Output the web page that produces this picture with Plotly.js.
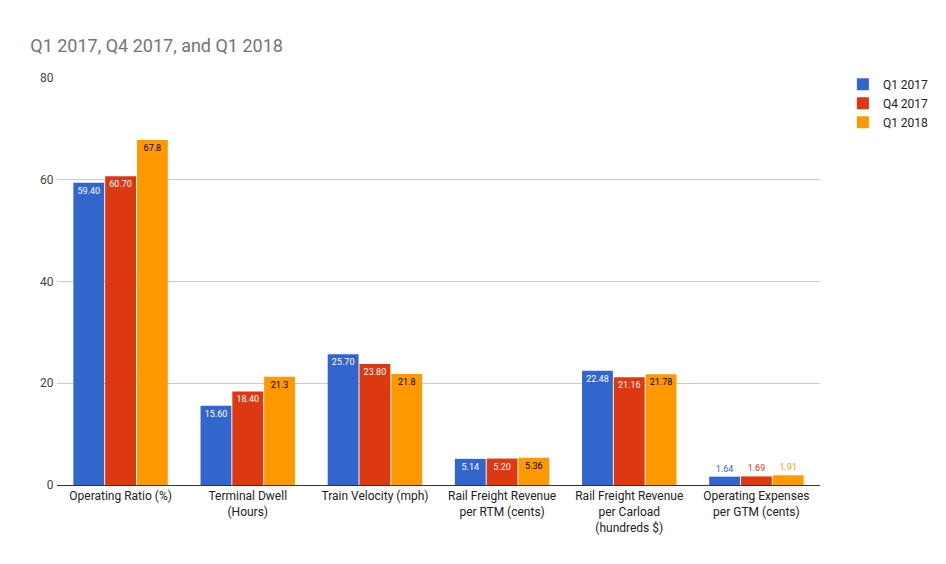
<!DOCTYPE html>
<html>
<head>
<meta charset="utf-8">
<script src="https://cdn.plot.ly/plotly-3.0.1.min.js"></script>
<style>body{margin:0;background:#fff}</style>
</head>
<body>
<div id="chart" style="width:946px;height:564px"></div>
<script>
// categories
var categorias = ["Operating Ratio (%)", "Terminal Dwell<br>(Hours)", "Train Velocity (mph)",
  "Rail Freight Revenue<br>per RTM (cents)", "Rail Freight Revenue<br>per Carload<br>(hundreds $)",
  "Operating Expenses<br>per GTM (cents)"];

// series values
var q1_2017 = [59.40, 15.60, 25.70, 5.14, 22.48, 1.64];
var q4_2017 = [60.70, 18.40, 23.80, 5.20, 21.16, 1.69];
var q1_2018 = [67.8, 21.3, 21.8, 5.36, 21.78, 1.91];

// labels as shown on bars
var etiq_q1_2017 = ["59.40", "15.60", "25.70", "5.14", "22.48", "1.64"];
var etiq_q4_2017 = ["60.70", "18.40", "23.80", "5.20", "21.16", "1.69"];
var etiq_q1_2018 = ["67.8", "21.3", "21.8", "5.36", "21.78", "1.91"];

function serie(nombre, valores, etiquetas, color, colorTexto) {
  return {
    type: "bar", name: nombre, x: categorias, y: valores,
    text: etiquetas, textangle: 0, cliponaxis: false,
    textposition: valores.map(function (v) { return v < 3 ? "outside" : "inside"; }),
    insidetextanchor: "end",
    textfont: { size: 9, family: "Roboto",
      color: valores.map(function (v) { return v < 3 ? color : colorTexto; }) },
    marker: { color: color }
  };
}

var data = [
  serie("Q1 2017", q1_2017, etiq_q1_2017, "#3366cc", "#ffffff"),
  serie("Q4 2017", q4_2017, etiq_q4_2017, "#dc3912", "#ffffff"),
  serie("Q1 2018", q1_2018, etiq_q1_2018, "#ff9900", "#000000")
];

var layout = {
  width: 946, height: 564,
  margin: { l: 57, r: 126, t: 78, b: 79 },
  font: { family: "Roboto", color: "#444" },
  title: { text: "Q1 2017, Q4 2017, and Q1 2018", x: 0.032, xanchor: "left", y: 0.93,
    font: { size: 18, color: "#757575", family: "Roboto" } },
  bargap: 0.25, bargroupgap: 0.03,
  uniformtext: { minsize: 9, mode: "show" },
  xaxis: { tickfont: { size: 12, color: "#222" }, showline: true, linecolor: "#333", ticks: "" },
  yaxis: { range: [0, 80], dtick: 20, gridcolor: "#ccc", zeroline: false,
    tickfont: { size: 12, color: "#444" }, ticklen: 0, ticks: "outside", tickcolor: "rgba(0,0,0,0)" },
  legend: { x: 1.03, y: 1.02, yanchor: "top", font: { size: 12, color: "#222" } },
  showlegend: true
};

Plotly.newPlot("chart", data, layout, { displayModeBar: false });
</script>
</body>
</html>
